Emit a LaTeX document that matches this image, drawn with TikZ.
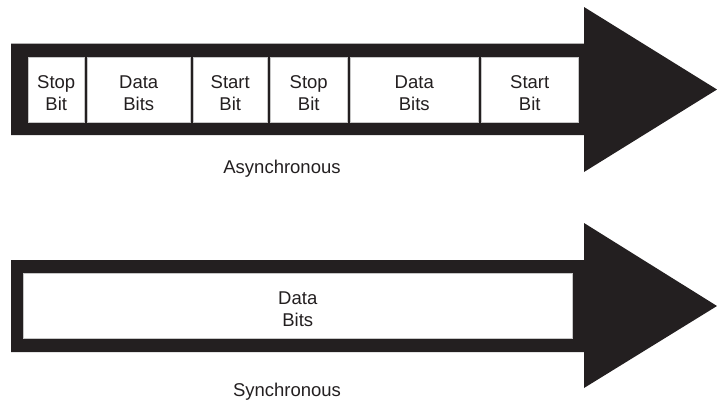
\documentclass[tikz,border=0pt]{standalone}
\usepackage{fontspec}
\setmainfont{Liberation Sans}
\definecolor{ink}{HTML}{231F20}
\tikzset{
  bitbox/.style={fill=white, draw=gray!45, line width=0.5pt, anchor=north west,
    align=center, inner sep=0pt, minimum height=65pt, text=ink,
    text height=41pt, text depth=0pt,
    font=\fontsize{18.5}{22}\selectfont},
  caption/.style={anchor=base, inner sep=0pt, text=ink, font=\fontsize{18.5}{22}\selectfont},
}

\begin{document}
\begin{tikzpicture}[x=1pt, y=-1pt]
  \useasboundingbox (0,0) rectangle (717,402);
  % asynchronous arrow
  \fill[ink] (11,43.5) -- (584,43.5) -- (584,7) -- (717,89.5) -- (584,172)
    -- (584,135) -- (11,135) -- cycle;
  \foreach \n/\x/\w/\t in {stopA/28/56/{Stop\\Bit}, dataA/87/103/{Data\\Bits},
      startA/193/74/{Start\\Bit}, stopB/270/77/{Stop\\Bit},
      dataB/350/128/{Data\\Bits}, startB/481/97/{Start\\Bit}}
    { \node[bitbox, minimum width=\w pt] (\n) at (\x,57) {\t}; }
  \node[caption] (async) at (282,173) {Asynchronous};
  % synchronous arrow
  \fill[ink] (11,260) -- (584,260) -- (584,223) -- (717,306) -- (584,388)
    -- (584,352) -- (11,352) -- cycle;
  \node[bitbox, minimum width=549pt] (dataS) at (23,273) {Data\\Bits};
  \node[caption] (sync) at (287,396) {Synchronous};
\end{tikzpicture}
\end{document}
